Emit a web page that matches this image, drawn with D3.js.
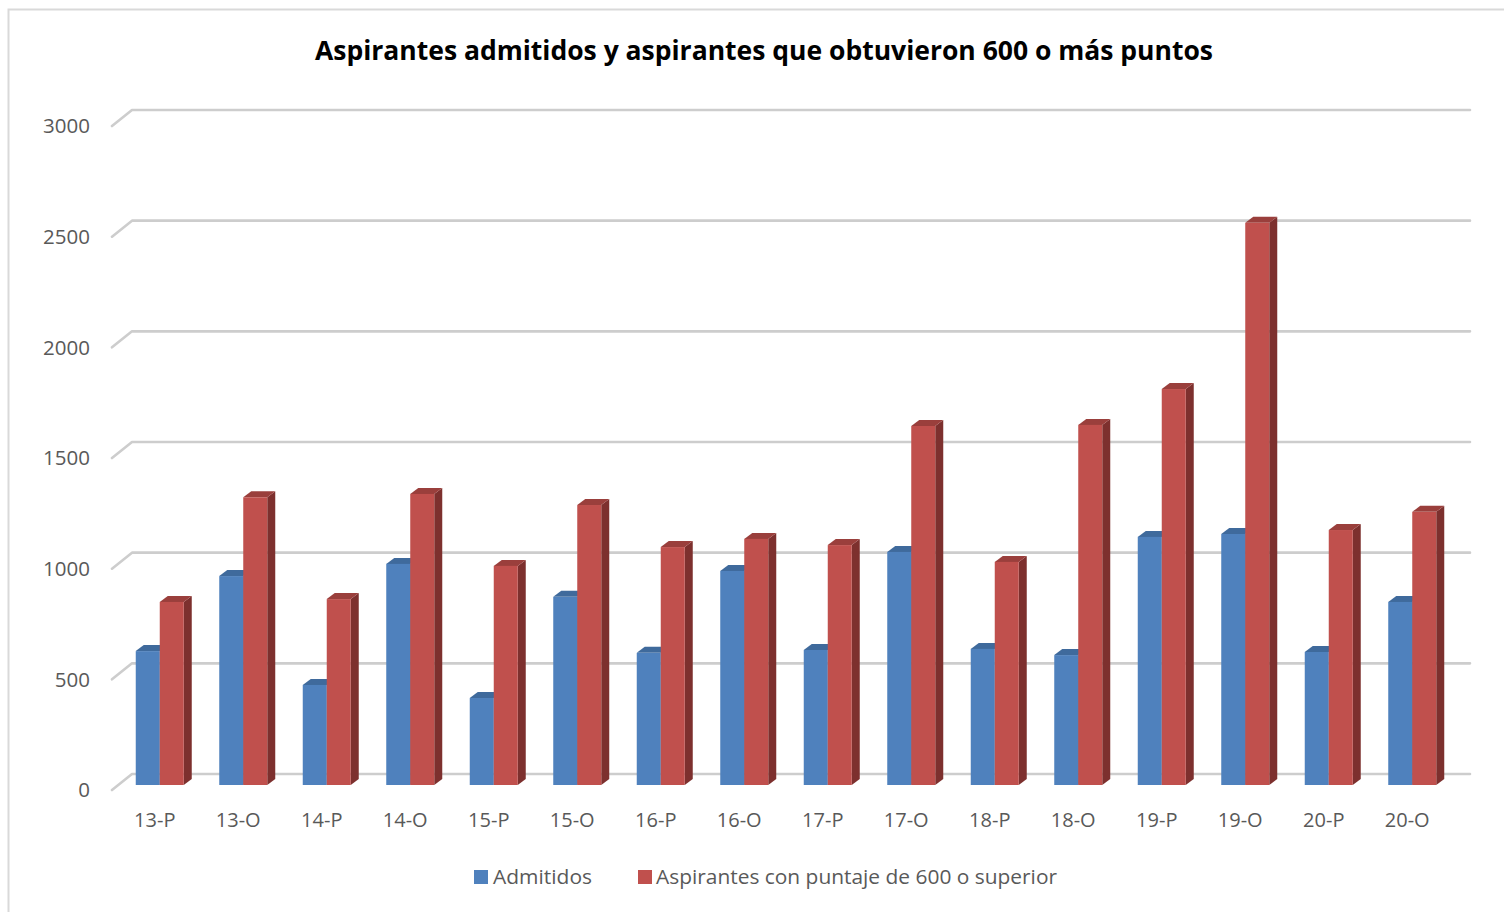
<!DOCTYPE html>
<html>
<head>
<meta charset="utf-8">
<script src="https://cdn.jsdelivr.net/npm/d3@7/dist/d3.min.js"></script>
<style>
html,body{margin:0;padding:0;background:#fff;}
svg{display:block;}
text{font-family:"Open Sans","Noto Sans",sans-serif;}
</style>
</head>
<body>
<svg id="chart" width="1504" height="912"></svg>
<script>
const categories = ["13-P","13-O","14-P","14-O","15-P","15-O","16-P","16-O","17-P","17-O","18-P","18-O","19-P","19-O","20-P","20-O"];
const admitidos = [605, 944, 452, 999, 393, 850, 597, 967, 610, 1053, 615, 587, 1121, 1134, 601, 827];
const aspirantes600 = [827, 1300, 840, 1315, 990, 1265, 1075, 1112, 1084, 1622, 1008, 1627, 1789, 2540, 1152, 1234];
const seriesNames = ["Admitidos", "Aspirantes con puntaje de 600 o superior"];
const yTicks = [0, 500, 1000, 1500, 2000, 2500, 3000];
const title = "Aspirantes admitidos y aspirantes que obtuvieron 600 o más puntos";

const colors = [
  {front:"#4f81bd", side:"#385d8a", top:"#3f6a9c"},
  {front:"#c0504d", side:"#7d302e", top:"#9a3f3c"}
];

const svg = d3.select("#chart");

// outer border
svg.append("rect").attr("x",8.5).attr("y",9.5).attr("width",1520).attr("height",920)
  .attr("fill","none").attr("stroke","#d9d9d9").attr("stroke-width",2);

// title
svg.append("text").attr("x",764).attr("y",60).attr("text-anchor","middle")
  .attr("font-size",26).attr("font-weight","bold").attr("fill","#000")
  .attr("textLength",898).attr("lengthAdjust","spacingAndGlyphs")
  .text(title);

// scales (front plane)
const x = d3.scaleBand().domain(categories).range([112,1448]).padding(0);
const y = d3.scaleLinear().domain([0,3000]).range([790,126]);
const wallDX = 20, wallDY = -16;      // depth of back wall
const barDX = 6, barDY = -5;          // bar placement depth
const depthX = 8, depthY = -6;        // bar thickness
const barW = 24;
const xs = d3.scaleBand().domain(seriesNames).range([-barW, barW]);

// gridlines on back wall + diagonal ticks
const grid = svg.append("g");
yTicks.forEach(t => {
  const yf = y(t);
  grid.append("path")
    .attr("d", `M${112},${yf} L${112+wallDX},${yf+wallDY} L${1450+wallDX},${yf+wallDY}`)
    .attr("fill","none").attr("stroke","#cdcdcd").attr("stroke-width",2.6)
    .attr("stroke-linejoin","round").attr("stroke-linecap","round");
});

// y axis labels
svg.append("g").selectAll("text").data(yTicks).join("text")
  .attr("x",90).attr("y",d=>y(d)).attr("dy","0.35em").attr("text-anchor","end")
  .attr("font-size",20.5).attr("fill","#595959").text(d=>d);

// category labels
svg.append("g").selectAll("text").data(categories).join("text")
  .attr("x",d=>x(d)+x.bandwidth()/2+1).attr("y",820).attr("dy","0.35em").attr("text-anchor","middle")
  .attr("font-size",20).attr("fill","#595959").text(d=>d);

// bars
const data = categories.map((c,i)=>({c, vals:[admitidos[i], aspirantes600[i]]}));
const bars = svg.append("g");
data.forEach(d => {
  d.vals.forEach((v,s) => {
    const cx = x(d.c) + x.bandwidth()/2 + barDX;
    const x0 = cx + xs(seriesNames[s]);
    const x1 = x0 + xs.bandwidth();
    const y0 = y(0) + barDY;
    const yt = y(v) + barDY;
    const col = colors[s];
    const g = bars.append("g");
    g.append("path").attr("d",`M${x1},${y0} L${x1+depthX},${y0+depthY} L${x1+depthX},${yt+depthY} L${x1},${yt} Z`)
      .attr("fill",col.side);
    g.append("path").attr("d",`M${x0},${yt} L${x0+depthX},${yt+depthY} L${x1+depthX},${yt+depthY} L${x1},${yt} Z`)
      .attr("fill",col.top);
    g.append("rect").attr("x",x0).attr("y",yt).attr("width",x1-x0).attr("height",y0-yt)
      .attr("fill",col.front);
  });
});

// legend
const legend = svg.append("g");
const legItems = [{x:474, tx:493, len:99},{x:638, tx:656, len:401}];
seriesNames.forEach((n,i)=>{
  legend.append("rect").attr("x",legItems[i].x).attr("y",870).attr("width",14).attr("height",14)
    .attr("fill",colors[i].front);
  legend.append("text").attr("x",legItems[i].tx).attr("y",877).attr("dy","0.35em")
    .attr("font-size",20.5).attr("fill","#595959")
    .attr("textLength",legItems[i].len).attr("lengthAdjust","spacingAndGlyphs").text(n);
});
</script>
</body>
</html>
